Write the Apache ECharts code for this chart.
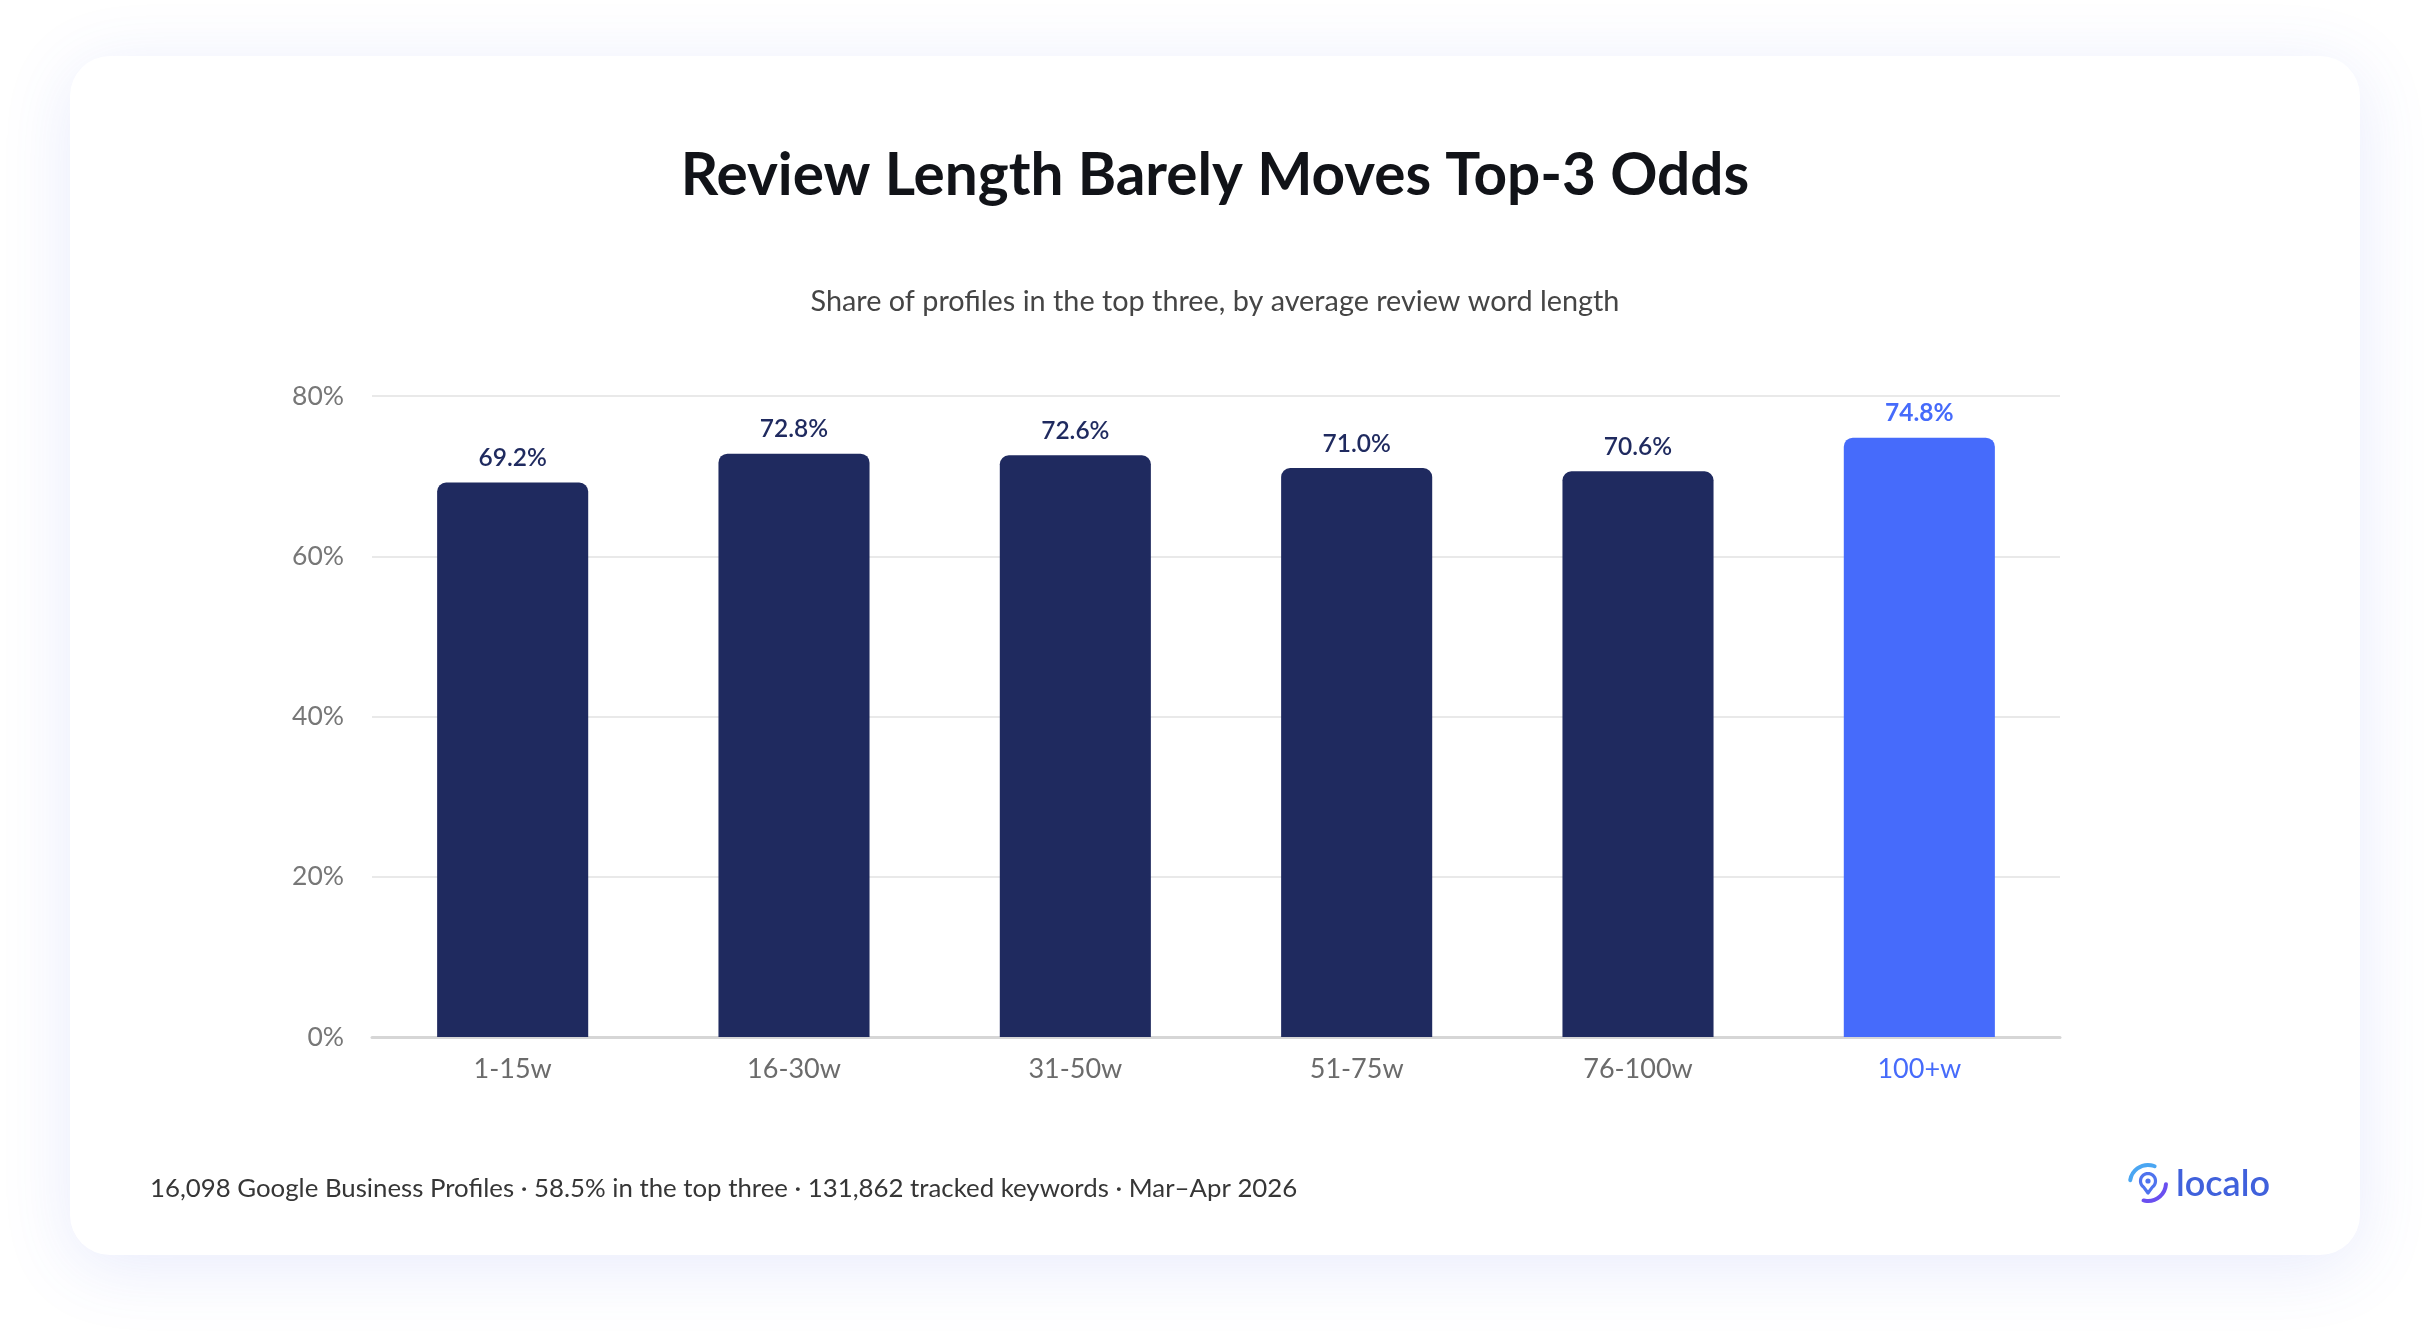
<!DOCTYPE html>
<html>
<head>
<meta charset="utf-8">
<script src="https://cdn.jsdelivr.net/npm/echarts@6/dist/echarts.min.js"></script>
<style>
  html, body { margin: 0; padding: 0; width: 2430px; height: 1340px; background: #ffffff; overflow: hidden; }
  #card { position: absolute; left: 70px; top: 56px; width: 2290px; height: 1199px; border-radius: 40px; background: #ffffff;
          box-shadow: 0 12px 70px rgba(80, 100, 235, 0.13); }
  #chart { position: absolute; left: 0; top: 0; width: 2430px; height: 1340px; }
</style>
</head>
<body>
<div id="card"></div>
<div id="chart"></div>
<script>
const categories = ['1-15w', '16-30w', '31-50w', '51-75w', '76-100w', '100+w'];
const values = [69.2, 72.8, 72.6, 71.0, 70.6, 74.8];
const highlightIndex = 5;
const yTicks = { min: 0, max: 80, interval: 20 };
const titleText = 'Review Length Barely Moves Top-3 Odds';
const subtitleText = 'Share of profiles in the top three, by average review word length';
const footerText = '16,098 Google Business Profiles \u00b7 58.5% in the top three \u00b7 131,862 tracked keywords \u00b7 Mar\u2013Apr 2026';

const NAVY = '#1f2a5f';
const BLUE = '#466bfb';
const FONT = 'Lato, "Noto Sans", sans-serif';

// decorative logo pin outline
function pinPoints(cx, cy, r, tipY) {
  const pts = [];
  const a0 = Math.PI / 2 + 0.62, a1 = Math.PI / 2 - 0.62 + Math.PI * 2;
  const n = 28;
  pts.push([cx, tipY]);
  for (let i = 0; i <= n; i++) {
    const a = a0 + (a1 - a0) * i / n;
    pts.push([cx + r * Math.cos(a), cy + r * Math.sin(a)]);
  }
  return pts;
}

const chart = echarts.init(document.getElementById('chart'), null, { renderer: 'canvas' });

const option = {
  backgroundColor: 'transparent',
  animation: false,
  textStyle: { fontFamily: FONT },
  title: [
    { text: titleText, left: 'center', top: 142,
      textStyle: { fontFamily: FONT, fontSize: 58.5, fontWeight: 'bold', color: '#111318' } },
    { text: subtitleText, left: 'center', top: 282,
      textStyle: { fontFamily: FONT, fontSize: 28.8, fontWeight: 'normal', color: '#454545' } }
  ],
  grid: { left: 372, right: 370, top: 396, bottom: 303, containLabel: false },
  xAxis: {
    type: 'category',
    data: categories,
    axisLine: { show: true, lineStyle: { color: '#d6d6d6', width: 3 } },
    axisTick: { show: false },
    axisLabel: {
      margin: 19,
      fontFamily: FONT, fontSize: 27,
      color: function (v, i) { return i === highlightIndex ? BLUE : '#6b6b6b'; }
    }
  },
  yAxis: {
    type: 'value',
    min: yTicks.min, max: yTicks.max, interval: yTicks.interval,
    axisLine: { show: false },
    axisTick: { show: false },
    axisLabel: { formatter: '{value}%', margin: 28, fontFamily: FONT, fontSize: 26.5, color: '#777777' },
    splitLine: { lineStyle: { color: '#e2e2e2', width: 1.5 } }
  },
  series: [{
    type: 'bar',
    barWidth: '53.7%',
    data: values.map(function (v, i) {
      return {
        value: v,
        itemStyle: { color: i === highlightIndex ? BLUE : NAVY },
        label: { color: i === highlightIndex ? BLUE : NAVY, fontWeight: i === highlightIndex ? 'bold' : 600 }
      };
    }),
    itemStyle: { borderRadius: [9, 9, 0, 0] },
    label: {
      show: true, position: 'top', distance: 12,
      fontFamily: FONT, fontSize: 24.5,
      formatter: function (p) { return p.value.toFixed(1) + '%'; }
    }
  }],
  graphic: [
    { type: 'text', x: 150, y: 1189,
      style: { text: footerText, fontFamily: FONT, fontSize: 25.8, fill: '#363636', textVerticalAlign: 'middle', verticalAlign: 'middle' } },
    { type: 'arc', shape: { cx: 2148, cy: 1183, r: 18, startAngle: Math.PI * 1.05, endAngle: Math.PI * 1.62 },
      style: { stroke: '#4aa6f2', lineWidth: 4, lineCap: 'round', fill: null } },
    { type: 'arc', shape: { cx: 2148, cy: 1183, r: 18, startAngle: Math.PI * 0.02, endAngle: Math.PI * 0.58 },
      style: { stroke: '#6a4ff0', lineWidth: 4, lineCap: 'round', fill: null } },
    { type: 'polygon', shape: { points: pinPoints(2148, 1181, 7.5, 1193) },
      style: { stroke: '#4f73ee', lineWidth: 3.2, fill: 'none', lineJoin: 'round' } },
    { type: 'circle', shape: { cx: 2148, cy: 1181, r: 2.6 }, style: { fill: '#4f73ee' } },
    { type: 'text', x: 2176, y: 1184,
      style: { text: 'localo', fontFamily: FONT, fontSize: 36, fontWeight: 600, fill: '#4061dc', textVerticalAlign: 'middle', verticalAlign: 'middle' } }
  ]
};
chart.setOption(option);
</script>
</body>
</html>
